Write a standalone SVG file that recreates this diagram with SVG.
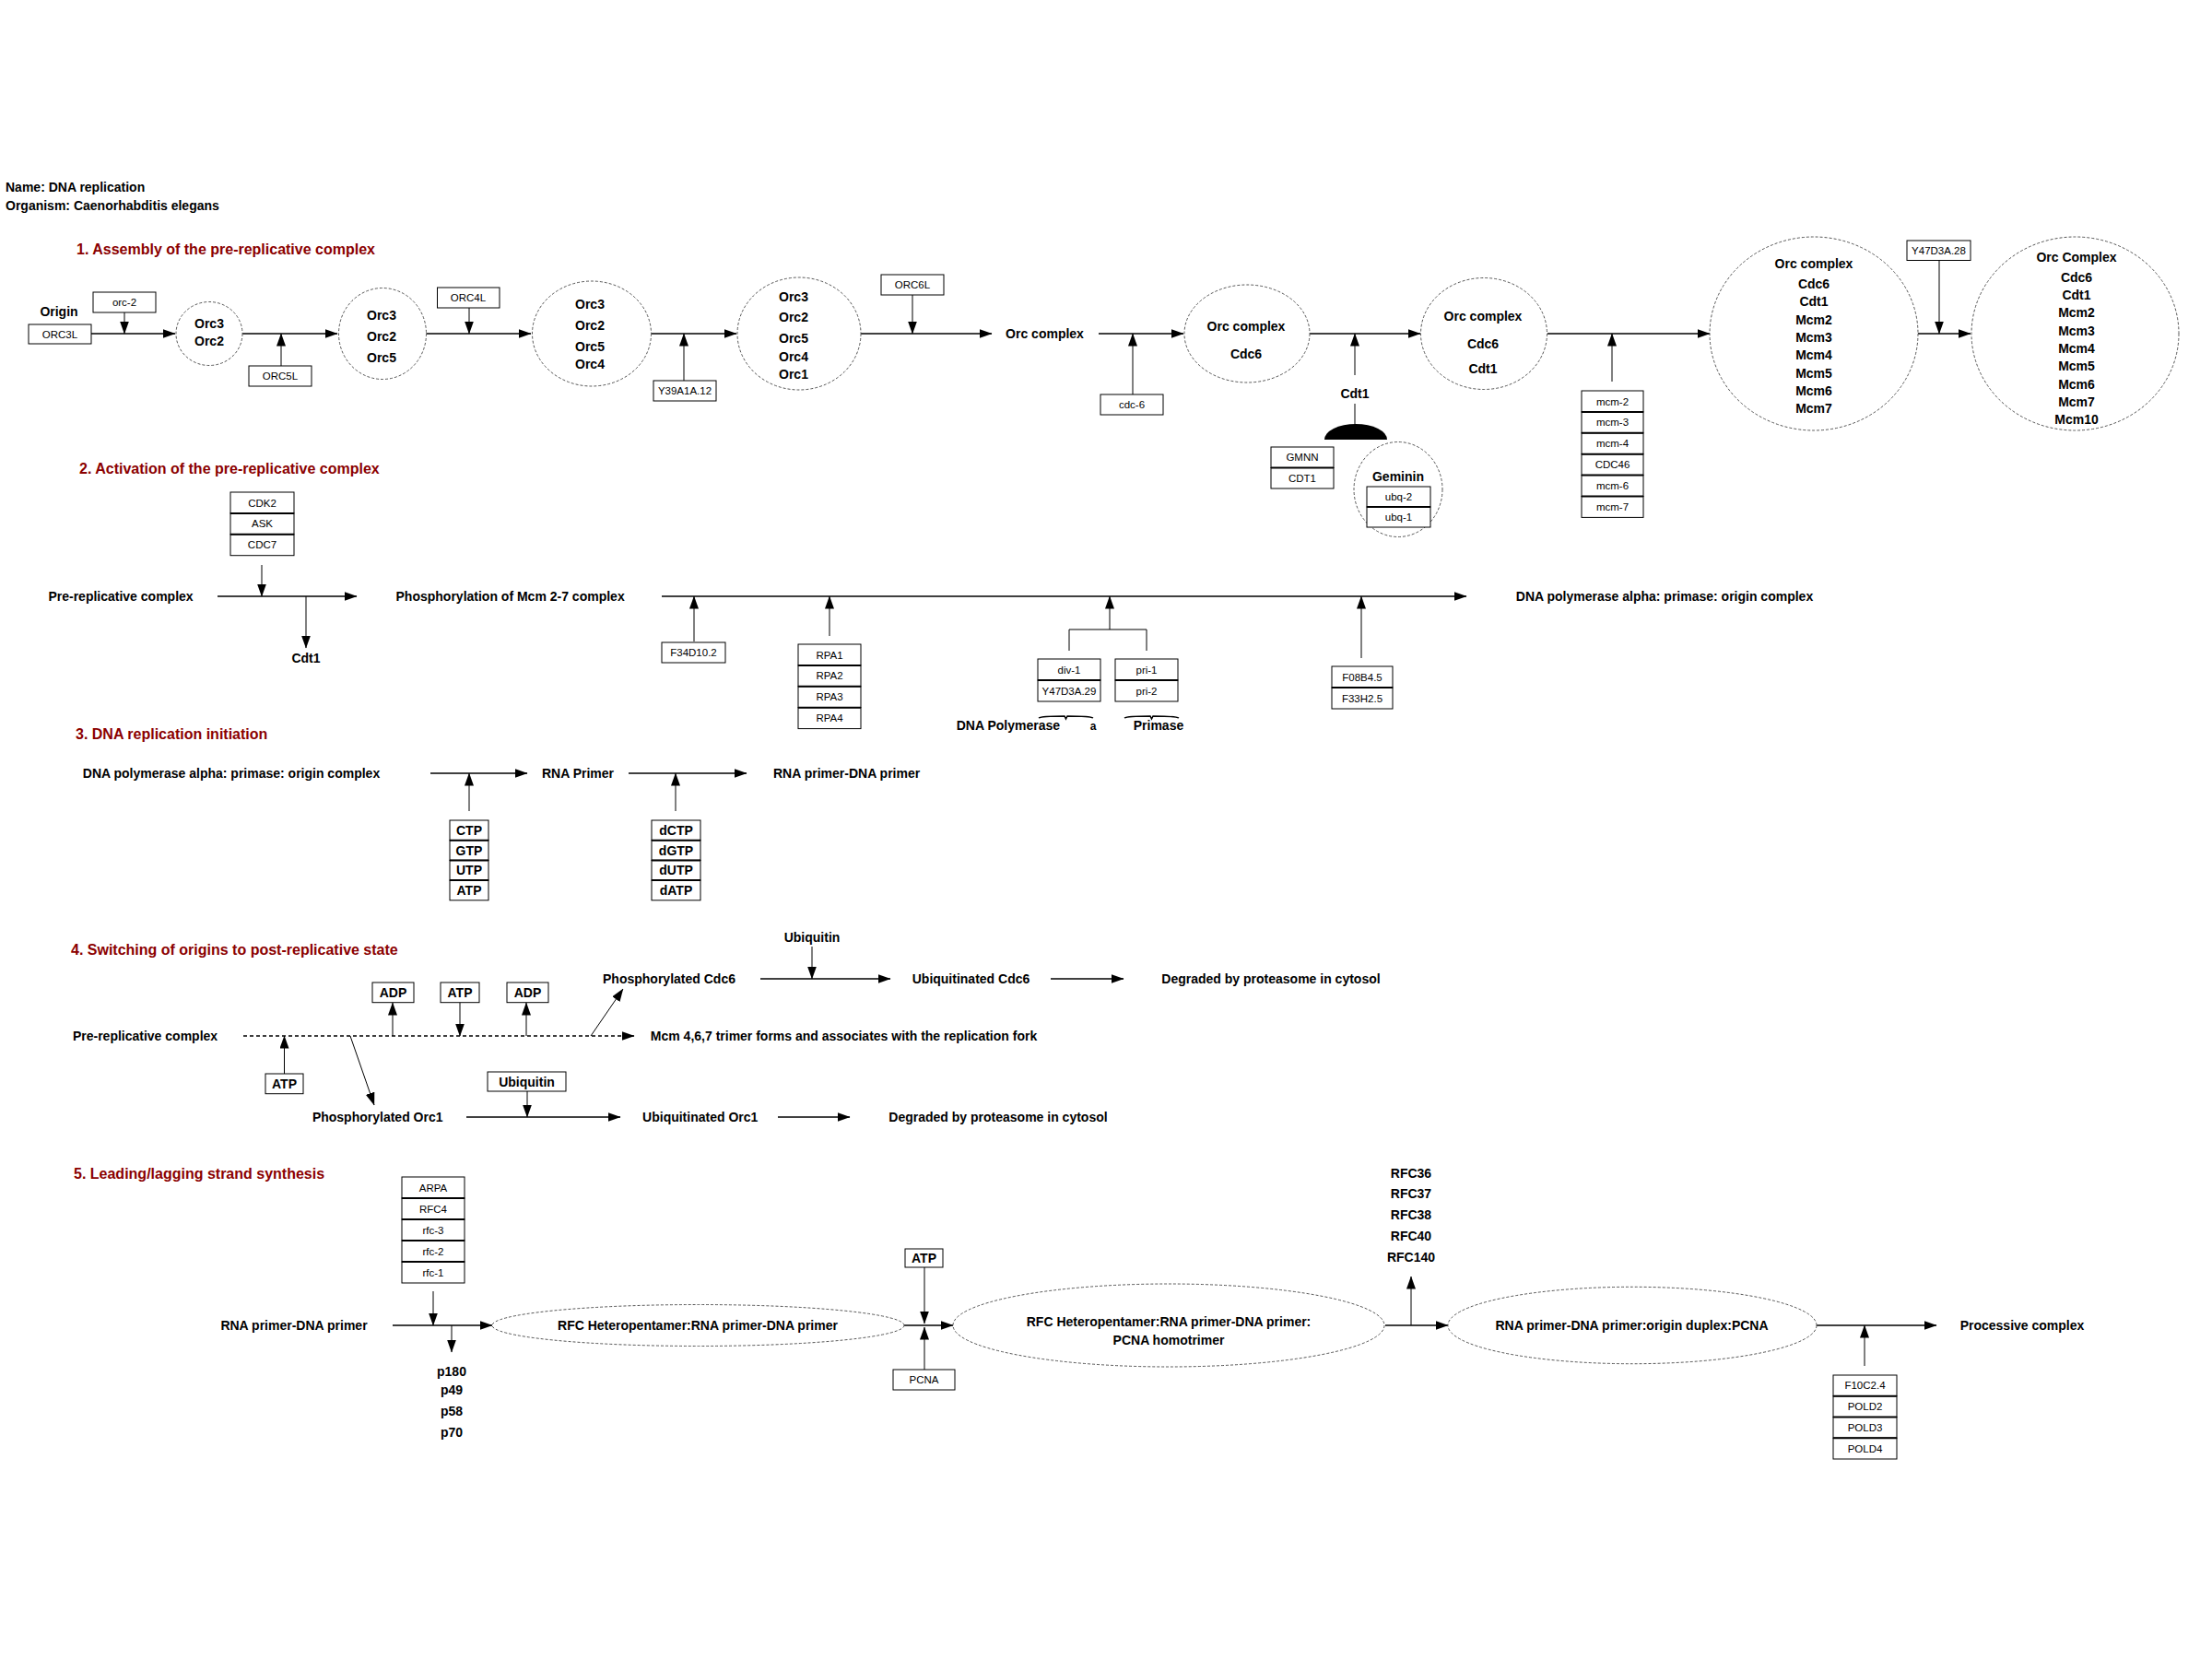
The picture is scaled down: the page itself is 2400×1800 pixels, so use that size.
<svg xmlns="http://www.w3.org/2000/svg" width="2400" height="1800" viewBox="0 0 2400 1800">
<style>
text{font-family:"Liberation Sans",Arial,sans-serif;fill:#000}
.b{font-weight:bold;font-size:14px;text-anchor:middle}
.L{font-weight:bold;font-size:14px}
.r{font-size:11.5px;text-anchor:middle}
.h{font-weight:bold;font-size:16px;fill:#8b0000}
.bx{fill:#fff;stroke:#000;stroke-width:1}
.sep{stroke:#000;stroke-width:2}
.el{fill:#fff;stroke:#555;stroke-width:1;stroke-dasharray:3 2}
.c{stroke:#000;stroke-width:1.5;fill:none}
.c1{stroke:#000;stroke-width:1;fill:none}
.d{stroke:#000;stroke-width:1.5;fill:none;stroke-dasharray:4 3}
</style>
<defs>
<marker id="ah" markerWidth="14" markerHeight="10" refX="13.5" refY="5" orient="auto" markerUnits="userSpaceOnUse"><path d="M0,0 L14,5 L0,10 z" fill="#000"/></marker>
</defs>
<rect width="2400" height="1800" fill="#fff"/>

<g id="header">
<text class="L" x="6" y="208">Name: DNA replication</text>
<text class="L" x="6" y="228">Organism: Caenorhabditis elegans</text>
<text class="h" x="83" y="276">1. Assembly of the pre-replicative complex</text>
<text class="h" x="86" y="514">2. Activation of the pre-replicative complex</text>
<text class="h" x="82" y="802">3. DNA replication initiation</text>
<text class="h" x="77" y="1036">4. Switching of origins to post-replicative state</text>
<text class="h" x="80" y="1279">5. Leading/lagging strand synthesis</text>
</g>

<g id="connectors">
<!-- section 1 -->
<line class="c" x1="99" y1="362" x2="190" y2="362" marker-end="url(#ah)"/>
<line class="c1" x1="135" y1="339" x2="135" y2="362" marker-end="url(#ah)"/>
<line class="c" x1="263" y1="362" x2="366" y2="362" marker-end="url(#ah)"/>
<line class="c1" x1="305" y1="397" x2="305" y2="362" marker-end="url(#ah)"/>
<line class="c" x1="462" y1="362" x2="576" y2="362" marker-end="url(#ah)"/>
<line class="c1" x1="509" y1="334" x2="509" y2="362" marker-end="url(#ah)"/>
<line class="c" x1="707" y1="362" x2="799" y2="362" marker-end="url(#ah)"/>
<line class="c1" x1="742" y1="413" x2="742" y2="362" marker-end="url(#ah)"/>
<line class="c" x1="934" y1="362" x2="1076" y2="362" marker-end="url(#ah)"/>
<line class="c1" x1="990" y1="320" x2="990" y2="362" marker-end="url(#ah)"/>
<line class="c" x1="1192" y1="362" x2="1284" y2="362" marker-end="url(#ah)"/>
<line class="c1" x1="1229" y1="428" x2="1229" y2="362" marker-end="url(#ah)"/>
<line class="c" x1="1421" y1="362" x2="1541" y2="362" marker-end="url(#ah)"/>
<line class="c1" x1="1470" y1="407" x2="1470" y2="362" marker-end="url(#ah)"/>
<line class="c1" x1="1470" y1="438" x2="1470" y2="461"/>
<path d="M1437,477 A34,17 0 0 1 1505,477 Z" fill="#000"/>
<line class="c" x1="1679" y1="362" x2="1855" y2="362" marker-end="url(#ah)"/>
<line class="c1" x1="1749" y1="414" x2="1749" y2="362" marker-end="url(#ah)"/>
<line class="c" x1="2081" y1="362" x2="2138" y2="362" marker-end="url(#ah)"/>
<line class="c1" x1="2104" y1="282" x2="2104" y2="362" marker-end="url(#ah)"/>
<!-- section 2 -->
<line class="c1" x1="284" y1="613" x2="284" y2="647" marker-end="url(#ah)"/>
<line class="c" x1="236" y1="647" x2="387" y2="647" marker-end="url(#ah)"/>
<line class="c1" x1="332" y1="647" x2="332" y2="703" marker-end="url(#ah)"/>
<line class="c" x1="718" y1="647" x2="1591" y2="647" marker-end="url(#ah)"/>
<line class="c1" x1="753" y1="696" x2="753" y2="647" marker-end="url(#ah)"/>
<line class="c1" x1="900" y1="690" x2="900" y2="647" marker-end="url(#ah)"/>
<line class="c1" x1="1204" y1="683" x2="1204" y2="647" marker-end="url(#ah)"/>
<path class="c1" d="M1160,706 V683 H1244 V706"/>
<line class="c1" x1="1477" y1="714" x2="1477" y2="647" marker-end="url(#ah)"/>
<path d="M1127,779 C1130,777 1150,777 1155,777 L1156.5,780 L1158,777 C1163,777 1183,777 1186,779" fill="none" stroke="#000" stroke-width="1.5"/>
<path d="M1220,779 C1223,777 1243,777 1248,777 L1249.5,780 L1251,777 C1256,777 1276,777 1279,779" fill="none" stroke="#000" stroke-width="1.5"/>
<!-- section 3 -->
<line class="c" x1="467" y1="839" x2="572" y2="839" marker-end="url(#ah)"/>
<line class="c1" x1="509" y1="880" x2="509" y2="839" marker-end="url(#ah)"/>
<line class="c" x1="682" y1="839" x2="810" y2="839" marker-end="url(#ah)"/>
<line class="c1" x1="733" y1="880" x2="733" y2="839" marker-end="url(#ah)"/>
<!-- section 4 -->
<line class="c1" x1="881" y1="1027" x2="881" y2="1062" marker-end="url(#ah)"/>
<line class="c" x1="825" y1="1062" x2="966" y2="1062" marker-end="url(#ah)"/>
<line class="c" x1="1140" y1="1062" x2="1219" y2="1062" marker-end="url(#ah)"/>
<line class="d" x1="264" y1="1124" x2="688" y2="1124" marker-end="url(#ah)"/>
<line class="c1" x1="308.5" y1="1165" x2="308.5" y2="1124" marker-end="url(#ah)"/>
<line class="c1" x1="426" y1="1124" x2="426" y2="1088" marker-end="url(#ah)"/>
<line class="c1" x1="499" y1="1088" x2="499" y2="1124" marker-end="url(#ah)"/>
<line class="c1" x1="571" y1="1124" x2="571" y2="1088" marker-end="url(#ah)"/>
<line class="c1" x1="641" y1="1124" x2="676" y2="1073" marker-end="url(#ah)"/>
<line class="c1" x1="380" y1="1124" x2="406" y2="1199" marker-end="url(#ah)"/>
<line class="c" x1="506" y1="1212" x2="673" y2="1212" marker-end="url(#ah)"/>
<line class="c1" x1="572" y1="1184" x2="572" y2="1212" marker-end="url(#ah)"/>
<line class="c" x1="844" y1="1212" x2="922" y2="1212" marker-end="url(#ah)"/>
<!-- section 5 -->
<line class="c1" x1="470" y1="1401" x2="470" y2="1438" marker-end="url(#ah)"/>
<line class="c" x1="426" y1="1438" x2="534" y2="1438" marker-end="url(#ah)"/>
<line class="c1" x1="490" y1="1438" x2="490" y2="1467" marker-end="url(#ah)"/>
<line class="c" x1="981" y1="1438" x2="1034" y2="1438" marker-end="url(#ah)"/>
<line class="c1" x1="1003" y1="1375" x2="1003" y2="1436" marker-end="url(#ah)"/>
<line class="c1" x1="1003" y1="1486" x2="1003" y2="1440" marker-end="url(#ah)"/>
<line class="c" x1="1503" y1="1438" x2="1571" y2="1438" marker-end="url(#ah)"/>
<line class="c1" x1="1531" y1="1438" x2="1531" y2="1385" marker-end="url(#ah)"/>
<line class="c" x1="1971" y1="1438" x2="2101" y2="1438" marker-end="url(#ah)"/>
<line class="c1" x1="2023" y1="1482" x2="2023" y2="1438" marker-end="url(#ah)"/>
</g>

<!-- Section 1 nodes -->
<g id="n-origin"><text class="b" x="64" y="343">Origin</text></g>
<g id="n-orc3l"><rect class="bx" x="31" y="352" width="68" height="21"/><text class="r" x="65" y="366.5">ORC3L</text></g>
<g id="n-orc2g"><rect class="bx" x="101" y="317" width="68" height="22"/><text class="r" x="135" y="332">orc-2</text></g>
<g id="n-c1"><ellipse class="el" cx="227" cy="362" rx="36" ry="34.5"/><text class="b" x="227" y="356">Orc3</text><text class="b" x="227" y="375">Orc2</text></g>
<g id="n-orc5l"><rect class="bx" x="270" y="397" width="68" height="22"/><text class="r" x="304" y="412">ORC5L</text></g>
<g id="n-c2"><ellipse class="el" cx="415" cy="362" rx="47.5" ry="49.5"/><text class="b" x="414" y="347">Orc3</text><text class="b" x="414" y="370">Orc2</text><text class="b" x="414" y="393">Orc5</text></g>
<g id="n-orc4l"><rect class="bx" x="474.5" y="312" width="67.5" height="22"/><text class="r" x="508" y="327">ORC4L</text></g>
<g id="n-c3"><ellipse class="el" cx="642" cy="362" rx="64.5" ry="57"/><text class="b" x="640" y="335">Orc3</text><text class="b" x="640" y="358">Orc2</text><text class="b" x="640" y="381">Orc5</text><text class="b" x="640" y="400">Orc4</text></g>
<g id="n-y39"><rect class="bx" x="709" y="413" width="68" height="22"/><text class="r" x="743" y="428">Y39A1A.12</text></g>
<g id="n-c4"><ellipse class="el" cx="867" cy="362" rx="67" ry="61"/><text class="b" x="861" y="327">Orc3</text><text class="b" x="861" y="349">Orc2</text><text class="b" x="861" y="372">Orc5</text><text class="b" x="861" y="392">Orc4</text><text class="b" x="861" y="411">Orc1</text></g>
<g id="n-orc6l"><rect class="bx" x="956" y="298" width="68" height="22"/><text class="r" x="990" y="313">ORC6L</text></g>
<g id="n-orccx"><text class="b" x="1133.5" y="367">Orc complex</text></g>
<g id="n-cdc6g"><rect class="bx" x="1194" y="428" width="68" height="22"/><text class="r" x="1228" y="443">cdc-6</text></g>
<g id="n-c5"><ellipse class="el" cx="1353" cy="362" rx="68" ry="53"/><text class="b" x="1352" y="359">Orc complex</text><text class="b" x="1352" y="389">Cdc6</text></g>
<g id="n-cdt1"><text class="b" x="1470" y="432">Cdt1</text></g>
<g id="n-gmnn"><rect class="bx" x="1379" y="485" width="68" height="22.5"/><rect class="bx" x="1379" y="507.5" width="68" height="22.5"/><line class="sep" x1="1379" y1="507.5" x2="1447" y2="507.5"/><text class="r" x="1413" y="500.3">GMNN</text><text class="r" x="1413" y="522.8">CDT1</text></g>
<g id="n-geminin"><ellipse class="el" cx="1517" cy="531" rx="48" ry="51.5"/><text class="b" x="1517" y="522">Geminin</text><rect class="bx" x="1483" y="528" width="69" height="22"/><rect class="bx" x="1483" y="550" width="69" height="22"/><line class="sep" x1="1483" y1="550" x2="1552" y2="550"/><text class="r" x="1517.5" y="543">ubq-2</text><text class="r" x="1517.5" y="565">ubq-1</text></g>
<g id="n-c6"><ellipse class="el" cx="1610" cy="362" rx="68.5" ry="60.5"/><text class="b" x="1609" y="348">Orc complex</text><text class="b" x="1609" y="378">Cdc6</text><text class="b" x="1609" y="405">Cdt1</text></g>
<g id="n-mcm"><rect class="bx" x="1716" y="424" width="67" height="22.9"/><rect class="bx" x="1716" y="446.9" width="67" height="22.9"/><rect class="bx" x="1716" y="469.8" width="67" height="22.9"/><rect class="bx" x="1716" y="492.7" width="67" height="22.9"/><rect class="bx" x="1716" y="515.6" width="67" height="22.9"/><rect class="bx" x="1716" y="538.5" width="67" height="22.9"/>
<path class="sep" d="M1716,446.9H1783M1716,469.8H1783M1716,492.7H1783M1716,515.6H1783M1716,538.5H1783"/>
<text class="r" x="1749.5" y="439.5">mcm-2</text><text class="r" x="1749.5" y="462.4">mcm-3</text><text class="r" x="1749.5" y="485.3">mcm-4</text><text class="r" x="1749.5" y="508.2">CDC46</text><text class="r" x="1749.5" y="531.1">mcm-6</text><text class="r" x="1749.5" y="554">mcm-7</text></g>
<g id="n-c7"><ellipse class="el" cx="1968" cy="362" rx="113" ry="105"/>
<text class="b" x="1968" y="291">Orc complex</text><text class="b" x="1968" y="313">Cdc6</text><text class="b" x="1968" y="332">Cdt1</text><text class="b" x="1968" y="352">Mcm2</text><text class="b" x="1968" y="371">Mcm3</text><text class="b" x="1968" y="390">Mcm4</text><text class="b" x="1968" y="410">Mcm5</text><text class="b" x="1968" y="429">Mcm6</text><text class="b" x="1968" y="448">Mcm7</text></g>
<g id="n-y47d3a28"><rect class="bx" x="2069" y="261" width="69" height="21.5"/><text class="r" x="2103.5" y="275.7">Y47D3A.28</text></g>
<g id="n-c8"><ellipse class="el" cx="2251.5" cy="362" rx="112.5" ry="105"/>
<text class="b" x="2253" y="284">Orc Complex</text><text class="b" x="2253" y="306">Cdc6</text><text class="b" x="2253" y="325">Cdt1</text><text class="b" x="2253" y="344">Mcm2</text><text class="b" x="2253" y="364">Mcm3</text><text class="b" x="2253" y="383">Mcm4</text><text class="b" x="2253" y="402">Mcm5</text><text class="b" x="2253" y="422">Mcm6</text><text class="b" x="2253" y="441">Mcm7</text><text class="b" x="2253" y="460">Mcm10</text></g>

<!-- Section 2 nodes -->
<g id="n-cdk"><rect class="bx" x="250" y="534" width="69" height="22.9"/><rect class="bx" x="250" y="556.9" width="69" height="22.9"/><rect class="bx" x="250" y="579.8" width="69" height="22.9"/><path class="sep" d="M250,556.9H319M250,579.8H319"/><text class="r" x="284.5" y="549.5">CDK2</text><text class="r" x="284.5" y="572.4">ASK</text><text class="r" x="284.5" y="595.3">CDC7</text></g>
<g id="n-prc2"><text class="b" x="131" y="652">Pre-replicative complex</text></g>
<g id="n-cdt1b"><text class="b" x="332" y="719">Cdt1</text></g>
<g id="n-phos"><text class="b" x="553.6" y="652">Phosphorylation of Mcm 2-7 complex</text></g>
<g id="n-f34"><rect class="bx" x="718" y="697" width="69" height="22"/><text class="r" x="752.5" y="712">F34D10.2</text></g>
<g id="n-rpa"><rect class="bx" x="866" y="699" width="68" height="22.9"/><rect class="bx" x="866" y="721.9" width="68" height="22.9"/><rect class="bx" x="866" y="744.8" width="68" height="22.9"/><rect class="bx" x="866" y="767.7" width="68" height="22.9"/><path class="sep" d="M866,721.9H934M866,744.8H934M866,767.7H934"/><text class="r" x="900" y="714.5">RPA1</text><text class="r" x="900" y="737.4">RPA2</text><text class="r" x="900" y="760.3">RPA3</text><text class="r" x="900" y="783.2">RPA4</text></g>
<g id="n-polA"><rect class="bx" x="1126" y="715" width="68" height="23"/><rect class="bx" x="1126" y="738" width="68" height="23"/><line class="sep" x1="1126" y1="738" x2="1194" y2="738"/><text class="r" x="1160" y="730.5">div-1</text><text class="r" x="1160" y="753.5">Y47D3A.29</text>
<text class="L" x="1150" y="792" text-anchor="end">DNA Polymerase</text><text x="1186" y="792" font-family="Liberation Serif" font-weight="bold" font-size="12" text-anchor="middle">a</text></g>
<g id="n-prim"><rect class="bx" x="1210" y="715" width="68" height="23"/><rect class="bx" x="1210" y="738" width="68" height="23"/><line class="sep" x1="1210" y1="738" x2="1278" y2="738"/><text class="r" x="1244" y="730.5">pri-1</text><text class="r" x="1244" y="753.5">pri-2</text><text class="b" x="1257" y="792">Primase</text></g>
<g id="n-f08"><rect class="bx" x="1445" y="723" width="66" height="23"/><rect class="bx" x="1445" y="746" width="66" height="23"/><line class="sep" x1="1445" y1="746" x2="1511" y2="746"/><text class="r" x="1478" y="738.5">F08B4.5</text><text class="r" x="1478" y="761.5">F33H2.5</text></g>
<g id="n-dnapol"><text class="b" x="1806" y="652">DNA polymerase alpha: primase: origin complex</text></g>

<!-- Section 3 nodes -->
<g id="n-dnapol3"><text class="b" x="251" y="844">DNA polymerase alpha: primase: origin complex</text></g>
<g id="n-ntp"><rect class="bx" x="488" y="890" width="42" height="21.7"/><rect class="bx" x="488" y="911.7" width="42" height="21.7"/><rect class="bx" x="488" y="933.4" width="42" height="21.7"/><rect class="bx" x="488" y="955.1" width="42" height="21.7"/><path class="sep" d="M488,911.7H530M488,933.4H530M488,955.1H530"/><text class="b" x="509" y="905.9">CTP</text><text class="b" x="509" y="927.6">GTP</text><text class="b" x="509" y="949.3">UTP</text><text class="b" x="509" y="971">ATP</text></g>
<g id="n-rnap"><text class="b" x="627" y="844">RNA Primer</text></g>
<g id="n-dntp"><rect class="bx" x="707" y="890" width="53" height="21.7"/><rect class="bx" x="707" y="911.7" width="53" height="21.7"/><rect class="bx" x="707" y="933.4" width="53" height="21.7"/><rect class="bx" x="707" y="955.1" width="53" height="21.7"/><path class="sep" d="M707,911.7H760M707,933.4H760M707,955.1H760"/><text class="b" x="733.5" y="905.9">dCTP</text><text class="b" x="733.5" y="927.6">dGTP</text><text class="b" x="733.5" y="949.3">dUTP</text><text class="b" x="733.5" y="971">dATP</text></g>
<g id="n-rnadna3"><text class="b" x="918.6" y="844">RNA primer-DNA primer</text></g>

<!-- Section 4 nodes -->
<g id="n-ubqt"><text class="b" x="881" y="1022">Ubiquitin</text></g>
<g id="n-pcdc6"><text class="b" x="726" y="1067">Phosphorylated Cdc6</text></g>
<g id="n-ucdc6"><text class="b" x="1053.5" y="1067">Ubiquitinated Cdc6</text></g>
<g id="n-deg1"><text class="b" x="1379" y="1067">Degraded by proteasome in cytosol</text></g>
<g id="n-prc4"><text class="b" x="157.5" y="1129">Pre-replicative complex</text></g>
<g id="n-mcm467"><text class="b" x="915.5" y="1129">Mcm 4,6,7 trimer forms and associates with the replication fork</text></g>
<g id="n-atp4"><rect class="bx" x="288" y="1165" width="41" height="21.7"/><text class="b" x="308.5" y="1181">ATP</text></g>
<g id="n-adp1"><rect class="bx" x="404" y="1066" width="45" height="21.7"/><text class="b" x="426.5" y="1082">ADP</text></g>
<g id="n-atp4b"><rect class="bx" x="478" y="1066" width="42" height="21.7"/><text class="b" x="499" y="1082">ATP</text></g>
<g id="n-adp2"><rect class="bx" x="550" y="1066" width="45" height="21.7"/><text class="b" x="572.5" y="1082">ADP</text></g>
<g id="n-porc1"><text class="b" x="409.7" y="1217">Phosphorylated Orc1</text></g>
<g id="n-ubqbox"><rect class="bx" x="529" y="1163" width="85" height="21"/><text class="b" x="571.5" y="1178.5">Ubiquitin</text></g>
<g id="n-uorc1"><text class="b" x="759.7" y="1217">Ubiquitinated Orc1</text></g>
<g id="n-deg2"><text class="b" x="1083" y="1217">Degraded by proteasome in cytosol</text></g>

<!-- Section 5 nodes -->
<g id="n-arpa"><rect class="bx" x="436" y="1277" width="68" height="23"/><rect class="bx" x="436" y="1300" width="68" height="23"/><rect class="bx" x="436" y="1323" width="68" height="23"/><rect class="bx" x="436" y="1346" width="68" height="23"/><rect class="bx" x="436" y="1369" width="68" height="23"/><path class="sep" d="M436,1300H504M436,1323H504M436,1346H504M436,1369H504"/><text class="r" x="470" y="1292.5">ARPA</text><text class="r" x="470" y="1315.5">RFC4</text><text class="r" x="470" y="1338.5">rfc-3</text><text class="r" x="470" y="1361.5">rfc-2</text><text class="r" x="470" y="1384.5">rfc-1</text></g>
<g id="n-rnadna5"><text class="b" x="319" y="1443">RNA primer-DNA primer</text></g>
<g id="n-p180"><text class="b" x="490" y="1493">p180</text><text class="b" x="490" y="1513">p49</text><text class="b" x="490" y="1536">p58</text><text class="b" x="490" y="1559">p70</text></g>
<g id="n-e1"><ellipse class="el" cx="757.5" cy="1438" rx="223.5" ry="22.5" stroke-dasharray="8 5"/><text class="b" x="757" y="1443">RFC Heteropentamer:RNA primer-DNA primer</text></g>
<g id="n-atp5"><rect class="bx" x="982" y="1355" width="41" height="20"/><text class="b" x="1002.5" y="1370">ATP</text></g>
<g id="n-pcna"><rect class="bx" x="969" y="1486" width="67" height="22"/><text class="r" x="1002.5" y="1501">PCNA</text></g>
<g id="n-e2"><ellipse class="el" cx="1268" cy="1438" rx="234" ry="45"/><text class="b" x="1268" y="1438.5">RFC Heteropentamer:RNA primer-DNA primer:</text><text class="b" x="1268" y="1458.5">PCNA homotrimer</text></g>
<g id="n-rfc"><text class="b" x="1531" y="1278">RFC36</text><text class="b" x="1531" y="1300">RFC37</text><text class="b" x="1531" y="1323">RFC38</text><text class="b" x="1531" y="1346">RFC40</text><text class="b" x="1531" y="1369">RFC140</text></g>
<g id="n-e3"><ellipse class="el" cx="1771" cy="1438" rx="200" ry="41.7"/><text class="b" x="1770.5" y="1443">RNA primer-DNA primer:origin duplex:PCNA</text></g>
<g id="n-pold"><rect class="bx" x="1989" y="1492" width="69" height="22.75"/><rect class="bx" x="1989" y="1514.75" width="69" height="22.75"/><rect class="bx" x="1989" y="1537.5" width="69" height="22.75"/><rect class="bx" x="1989" y="1560.25" width="69" height="22.75"/><path class="sep" d="M1989,1514.75H2058M1989,1537.5H2058M1989,1560.25H2058"/><text class="r" x="2023.5" y="1507.4">F10C2.4</text><text class="r" x="2023.5" y="1530.2">POLD2</text><text class="r" x="2023.5" y="1552.9">POLD3</text><text class="r" x="2023.5" y="1575.7">POLD4</text></g>
<g id="n-proc"><text class="b" x="2194" y="1443">Processive complex</text></g>
</svg>
